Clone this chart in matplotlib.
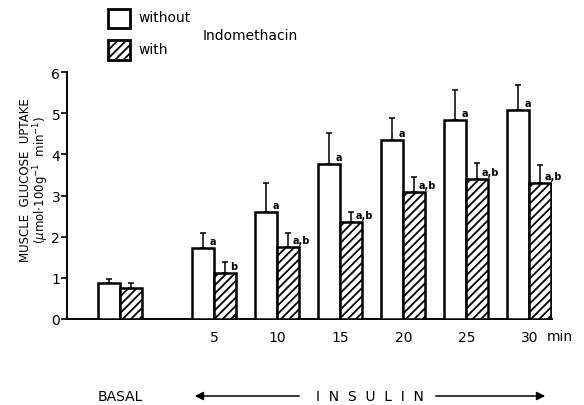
import matplotlib
matplotlib.use("Agg")
from matplotlib import pyplot as plt
from matplotlib.patches import Rectangle, FancyArrowPatch
import numpy as np

plt.rcParams['font.family'] = ['DejaVu Sans']
plt.rcParams['hatch.linewidth'] = 1.3

# data
groups = ['BASAL', '5', '10', '15', '20', '25', '30']
pos = [0, 1.5, 2.5, 3.5, 4.5, 5.5, 6.5]
without = [0.87, 1.72, 2.60, 3.76, 4.34, 4.84, 5.08]
without_err = [0.10, 0.36, 0.70, 0.75, 0.55, 0.73, 0.61]
with_indo = [0.76, 1.12, 1.76, 2.35, 3.09, 3.41, 3.30]
with_err = [0.11, 0.26, 0.34, 0.24, 0.36, 0.39, 0.45]
lab_without = ['', 'a', 'a', 'a', 'a', 'a', 'a']
lab_with = ['', 'b', 'a,b', 'a,b', 'a,b', 'a,b', 'a,b']

w = 0.35
x = np.array(pos)

fig = plt.figure(figsize=(5.84, 4.06), dpi=100)
ax = fig.add_axes([0.115, 0.212, 0.83, 0.608])

ax.bar(x - w/2, without, w, color='white', edgecolor='black', linewidth=1.8, zorder=3)
ax.bar(x + w/2, with_indo, w, color='white', edgecolor='black', linewidth=1.8,
       hatch='////', zorder=3)

zeros = np.zeros(len(x))
ax.errorbar(x - w/2, without, yerr=[zeros, without_err], fmt='none', ecolor='black',
            elinewidth=1.1, capsize=2.5, capthick=1.1, zorder=2)
ax.errorbar(x + w/2, with_indo, yerr=[zeros, with_err], fmt='none', ecolor='black',
            elinewidth=1.1, capsize=2.5, capthick=1.1, zorder=2)

for i in range(len(x)):
    if lab_without[i]:
        ax.text(x[i] - w/2 + 0.1, without[i] + 0.17, lab_without[i], fontsize=7,
                fontweight='bold', ha='left', va='center')
    if lab_with[i]:
        ax.text(x[i] + w/2 + 0.07, with_indo[i] + 0.17, lab_with[i], fontsize=7,
                fontweight='bold', ha='left', va='center')

ax.set_xlim(-0.84, 6.86)
ax.set_ylim(0, 6)
ax.set_yticks(range(7))
ax.set_xticks(pos[1:])
ax.set_xticklabels(groups[1:], fontsize=10)
ax.tick_params(axis='x', length=0, pad=8)
ax.tick_params(axis='y', direction='out', length=4, width=1.2, labelsize=10, pad=1)
for s in ['top', 'right']:
    ax.spines[s].set_visible(False)
for s in ['left', 'bottom']:
    ax.spines[s].set_linewidth(1.4)
ax.text(6.98, -0.42, 'min', fontsize=10, ha='center', va='center', clip_on=False)

# y label
fig.text(26/584, 1 - 180/406, 'MUSCLE  GLUCOSE  UPTAKE', rotation=90,
         fontsize=8.5, ha='center', va='center')
fig.text(41/584, 1 - 180/406, r'($\mu$mol$\cdot$100g$^{-1}$  min$^{-1}$)', rotation=90,
         fontsize=8.5, ha='center', va='center')

# legend drawn by hand
fig.add_artist(Rectangle((108/584, 1 - 29/406), 22/584, 19/406, transform=fig.transFigure,
                         facecolor='white', edgecolor='black', linewidth=2))
fig.add_artist(Rectangle((108/584, 1 - 61/406), 22/584, 20/406, transform=fig.transFigure,
                         facecolor='white', edgecolor='black', linewidth=2, hatch='////'))
fig.text(138/584, 1 - 18/406, 'without', fontsize=10, ha='left', va='center')
fig.text(138/584, 1 - 50/406, 'with', fontsize=10, ha='left', va='center')
fig.text(203/584, 1 - 36/406, 'Indomethacin', fontsize=10, ha='left', va='center')

# bottom annotation
fig.text(120/584, 1 - 397/406, 'BASAL', fontsize=10, ha='center', va='center')
fig.text(370/584, 1 - 397/406, 'I  N  S  U  L  I  N', fontsize=10, ha='center', va='center')
fig.add_artist(FancyArrowPatch(
    (302/584, 1 - 397/406), (192/584, 1 - 397/406), transform=fig.transFigure,
    arrowstyle='-|>,head_length=5,head_width=2.5', color='black', linewidth=1.1))
fig.add_artist(FancyArrowPatch(
    (433/584, 1 - 397/406), (548/584, 1 - 397/406), transform=fig.transFigure,
    arrowstyle='-|>,head_length=5,head_width=2.5', color='black', linewidth=1.1))

plt.savefig('out.png', dpi=100)
